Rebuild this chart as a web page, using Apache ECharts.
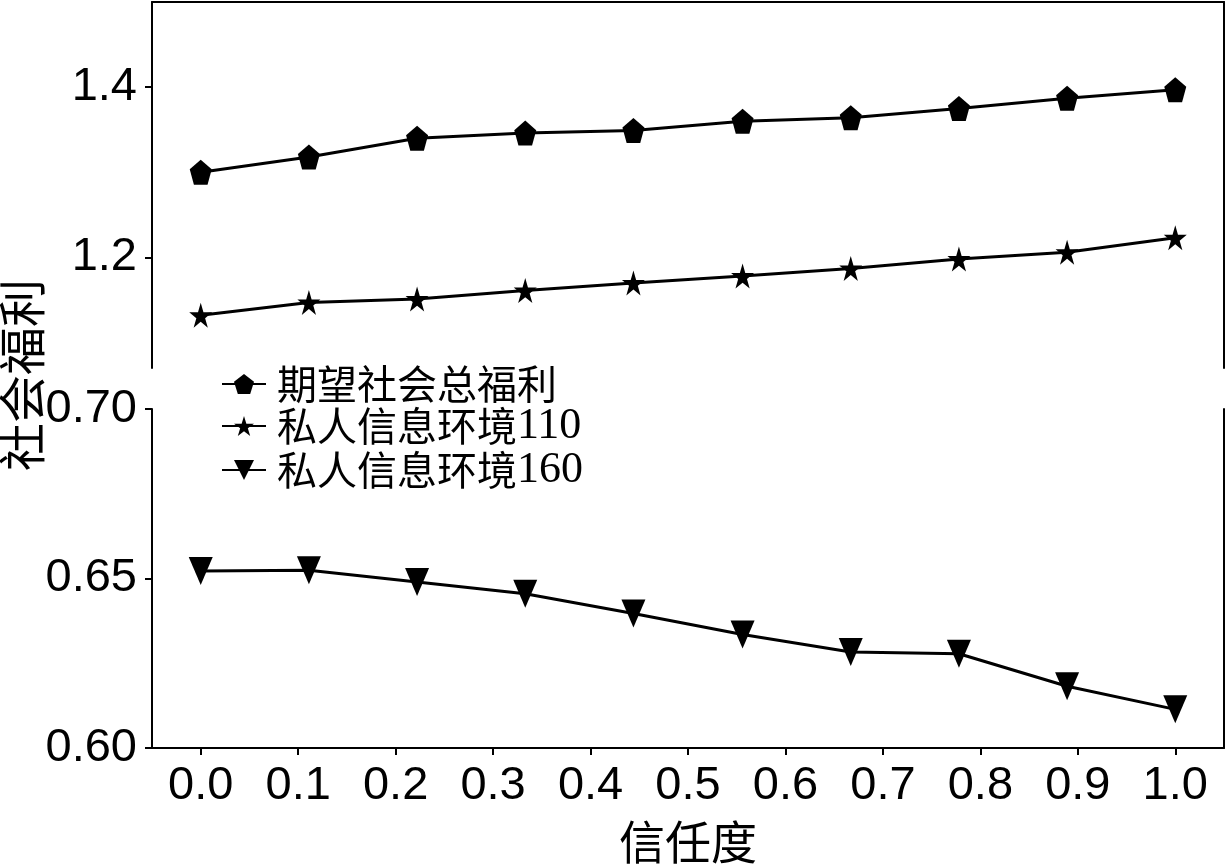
<!DOCTYPE html>
<html><head><meta charset="utf-8">
<script src="https://cdn.jsdelivr.net/npm/echarts@6/dist/echarts.min.js"></script>
<style>html,body{margin:0;padding:0;background:#fff}#c{width:1226px;height:866px}</style>
</head><body><div id="c"></div>
<script>
// ---- data ----
const trust = [0, 0.111, 0.222, 0.333, 0.444, 0.556, 0.667, 0.778, 0.889, 1.0];
const expectedWelfare = [1.300, 1.318, 1.340, 1.346, 1.349, 1.360, 1.364, 1.375, 1.387, 1.397];
const private110 = [1.132, 1.147, 1.151, 1.161, 1.170, 1.178, 1.187, 1.198, 1.206, 1.223];
const private160 = [0.6522, 0.6524, 0.6490, 0.6455, 0.6397, 0.6335, 0.6283, 0.6278, 0.6182, 0.6114];
const seriesNames = ['期望社会总福利', '私人信息环境110', '私人信息环境160'];
const xTitle = '信任度';
const yTitle = '社会福利';
const xRange = [-0.05, 1.05];
const xTickRange = [0, 1];
const xTickStep = 0.1;
const topRange = [1.07, 1.5];
const topTickRange = [1.2, 1.4];
const topTickStep = 0.2;
const bottomRange = [0.6, 0.7];
const bottomTickStep = 0.05;

// ---- layout ----
const L = 152, R = 2, W = 1226 - L - R;
const topT = 2, topH = 366;
const botT = 409, botH = 339;
const xSpan = xRange[1] - xRange[0];
const xTickLeft = L + (xTickRange[0] - xRange[0]) / xSpan * W;
const xTickRight = R + (xRange[1] - xTickRange[1]) / xSpan * W;
const ppuTop = topH / (topRange[1] - topRange[0]);
const topTickTop = topT + (topRange[1] - topTickRange[1]) * ppuTop;
const topTickH = (topTickRange[1] - topTickRange[0]) * ppuTop;

const NUM_FONT = "'Liberation Sans Narrow','Liberation Sans',Arial,sans-serif";
const CJK_FONT = "'Noto Sans CJK SC',sans-serif";
const LEG_CJK = "'Noto Sans CJK SC',serif";
const LEG_NUM = "'Liberation Serif',serif";
const BLACK = '#000';

const PENTAGON = 'path://M100,0 L195.11,69.1 L158.78,180.9 L41.22,180.9 L4.89,69.1 Z';
const STAR = 'path://M100,0 L122.45,69.1 L195.11,69.1 L136.33,111.8 L158.78,180.9 L100,138.2 L41.22,180.9 L63.67,111.8 L4.89,69.1 L77.55,69.1 Z';
const TRI_DOWN = 'path://M0,0 L200,0 L100,200 Z';

const lineAxis = {show: true, onZero: false, lineStyle: {color: BLACK, width: 2}};
const frameX = (grid, pos) => ({gridIndex: grid, type: 'value', position: pos, min: xRange[0], max: xRange[1],
  axisLine: lineAxis, axisTick: {show: false}, axisLabel: {show: false}, splitLine: {show: false}});
const frameY = (grid, pos, rng) => ({gridIndex: grid, type: 'value', position: pos, min: rng[0], max: rng[1],
  axisLine: lineAxis, axisTick: {show: false}, axisLabel: {show: false}, splitLine: {show: false}});
const hidden = (grid) => ({gridIndex: grid, type: 'value', min: 0, max: 1, show: false});

const tickStyle = {show: true, inside: false, length: 7, lineStyle: {color: BLACK, width: 2}};
const numLabel = (digits) => ({show: true, color: BLACK, fontSize: 47, fontFamily: NUM_FONT, margin: 15,
  formatter: v => Number(v).toFixed(digits)});

const pts = ys => trust.map((x, i) => [x, ys[i]]);
const gridBox = (o) => Object.assign({outerBoundsMode: 'none', containLabel: false}, o);

const option = {
  animation: false,
  backgroundColor: '#fff',
  grid: [
    gridBox({left: L, right: R, top: topT, height: topH}),               // 0 top frame
    gridBox({left: L, right: R, top: botT, height: botH}),               // 1 bottom frame
    gridBox({left: L, right: R, top: topTickTop, height: topTickH}),     // 2 top y ticks
    gridBox({left: xTickLeft, right: xTickRight, top: botT, height: botH}), // 3 x ticks
    gridBox({left: L, right: R, top: topT, height: botT + botH - topT})  // 4 y title
  ],
  xAxis: [
    frameX(0, 'top'),
    frameX(1, 'bottom'),
    hidden(2),
    {gridIndex: 3, type: 'value', position: 'bottom', min: xTickRange[0], max: xTickRange[1], interval: xTickStep,
      axisLine: {show: false, onZero: false}, axisTick: tickStyle, axisLabel: Object.assign(numLabel(1), {margin: 15}),
      splitLine: {show: false},
      name: xTitle, nameLocation: 'middle', nameGap: 71,
      nameTextStyle: {color: BLACK, fontSize: 46, fontFamily: CJK_FONT}},
    hidden(4)
  ],
  yAxis: [
    frameY(0, 'left', topRange),
    frameY(0, 'right', topRange),
    Object.assign(frameY(1, 'left', bottomRange), {interval: bottomTickStep, axisTick: tickStyle, axisLabel: numLabel(2)}),
    frameY(1, 'right', bottomRange),
    {gridIndex: 2, type: 'value', min: topTickRange[0], max: topTickRange[1], interval: topTickStep,
      axisLine: {show: false, onZero: false}, axisTick: tickStyle, axisLabel: numLabel(1), splitLine: {show: false}},
    hidden(3),
    {gridIndex: 4, type: 'value', min: 0, max: 1, axisLine: {show: false, onZero: false}, axisTick: {show: false},
      axisLabel: {show: false}, splitLine: {show: false},
      name: yTitle, nameLocation: 'middle', nameGap: 106, nameMoveOverlap: false,
      nameTextStyle: {color: BLACK, fontSize: 48, fontFamily: CJK_FONT}}
  ],
  legend: {
    orient: 'vertical', left: 216, top: 359, itemWidth: 44, itemHeight: 25, itemGap: 0,
    data: seriesNames,
    formatter: name => {
      const m = name.match(/^(.*?)(\d*)$/);
      return '{c|' + m[1] + '}' + (m[2] ? '{d|' + m[2] + '}' : '');
    },
    textStyle: {color: BLACK, padding: [0, 0, 0, 6],
      rich: {
        c: {fontSize: 40, fontFamily: LEG_CJK, color: BLACK},
        d: {fontSize: 44, fontFamily: LEG_NUM, color: BLACK}
      }}
  },
  series: [
    {name: seriesNames[0], type: 'line', xAxisIndex: 0, yAxisIndex: 0, data: pts(expectedWelfare),
      symbol: PENTAGON, symbolSize: [22, 25], itemStyle: {color: BLACK}, lineStyle: {color: BLACK, width: 3}},
    {name: seriesNames[1], type: 'line', xAxisIndex: 0, yAxisIndex: 0, data: pts(private110),
      symbol: STAR, symbolSize: [23, 25], itemStyle: {color: BLACK}, lineStyle: {color: BLACK, width: 3}},
    {name: seriesNames[2], type: 'line', xAxisIndex: 1, yAxisIndex: 2, data: pts(private160),
      symbol: TRI_DOWN, symbolSize: [24, 28], itemStyle: {color: BLACK}, lineStyle: {color: BLACK, width: 3}}
  ]
};
echarts.init(document.getElementById('c')).setOption(option);
</script></body></html>
